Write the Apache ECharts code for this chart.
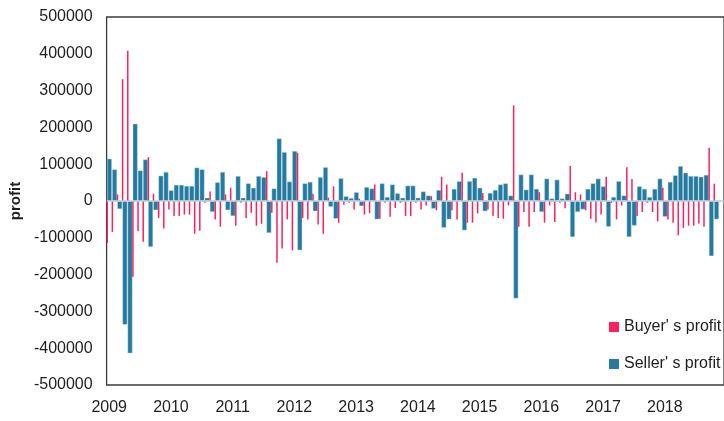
<!DOCTYPE html>
<html>
<head>
<meta charset="utf-8">
<script src="https://cdn.jsdelivr.net/npm/echarts@6/dist/echarts.min.js"></script>
<style>
html,body{margin:0;padding:0;background:#fff;}
#chart{width:724px;height:421px;}
</style>
</head>
<body>
<div id="chart"></div>
<script>
// Monthly data, Jan 2009 .. Dec 2018
const years = [2009, 2010, 2011, 2012, 2013, 2014, 2015, 2016, 2017, 2018];
const months = ['01','02','03','04','05','06','07','08','09','10','11','12'];
const yTicks = [-500000, 500000, 100000]; // min, max, step

const sellerProfit = [
  // 2009
  115000, 86000, -22000, -336000, -414000, 210000, 83000, 113000, -125000, -25000, 69000, 79000,
  // 2010
  29000, 44000, 44000, 41000, 41000, 91000, 86000, 9000, -30000, 51000, 79000, -25000,
  // 2011
  -41000, 68000, 9000, 48000, 36000, 68000, 65000, -87000, 34000, 170000, 133000, 53000,
  // 2012
  136000, -134000, 48000, 52000, -28000, 65000, 92000, -16000, -48000, 62000, 13000, 8000,
  // 2013
  24000, -14000, 38000, 34000, -50000, 48000, 11000, 45000, 21000, 9000, 42000, 42000,
  // 2014
  9000, 26000, 15000, -21000, 30000, -73000, -50000, 33000, 54000, -80000, 54000, 63000,
  // 2015
  36000, -28000, 22000, 30000, 45000, 48000, 15000, -265000, 72000, 31000, 72000, 33000,
  // 2016
  -30000, 61000, 7000, 58000, 7000, 20000, -98000, -30000, -23000, 33000, 48000, 61000,
  // 2017
  40000, -70000, 11000, 54000, 15000, -98000, -67000, 40000, 33000, 11000, 33000, 61000,
  // 2018
  -43000, 52000, 70000, 95000, 77000, 68000, 68000, 66000, 71000, -150000, -50000, null
];

const buyerProfit = [
  // 2009
  -114000, -84000, 18000, 331000, 408000, -206000, -82000, -111000, 119000, 20000, -46000, -75000,
  // 2010
  -23000, -41000, -41000, -37000, -37000, -89000, -81000, -5000, 26000, -50000, -70000, 18000,
  // 2011
  36000, -67000, -5000, -46000, -32000, -67000, -62000, 81000, -32000, -168000, -129000, -50000,
  // 2012
  -134000, 131000, -46000, -50000, 20000, -64000, -89000, 9000, 40000, -59000, -10000, -5000,
  // 2013
  -23000, 6000, -37000, -33000, 45000, -48000, -5000, -43000, -19000, -5000, -41000, -41000,
  // 2014
  -5000, -23000, -12000, 13000, -25000, 66000, 45000, -25000, -50000, 77000, -59000, -59000,
  // 2015
  -34000, 22000, -23000, -41000, -46000, -48000, -12000, 260000, -70000, -30000, -70000, -30000,
  // 2016
  24000, -59000, -12000, -57000, -5000, -20000, 95000, 24000, 18000, -25000, -48000, -58000,
  // 2017
  -37000, 66000, -5000, -50000, -12000, 92000, 60000, -41000, -30000, -5000, -30000, -55000,
  // 2018
  36000, -50000, -59000, -93000, -73000, -67000, -67000, -61000, -70000, 145000, 47000, null
];

const seriesNames = ["Buyer' s profit", "Seller' s profit"];
const categories = [];
years.forEach(y => months.forEach(m => categories.push(y + '-' + m)));

const FONT = '"Liberation Sans", Arial, sans-serif';
const TEXT = '#1f1f1f';

const chart = echarts.init(document.getElementById('chart'), null, {renderer: 'canvas'});
chart.setOption({
  animation: false,
  backgroundColor: '#ffffff',
  textStyle: {fontFamily: FONT},
  grid: {
    left: 106, right: -9, top: 17, bottom: 36,
    show: true, borderColor: '#3a3a3a', borderWidth: 1.3, backgroundColor: 'transparent'
  },
  legend: {
    orient: 'vertical',
    left: 609, top: 319,
    padding: 0,
    icon: 'rect', itemWidth: 10, itemHeight: 10, itemGap: 21,
    itemStyle: {borderWidth: 0},
    textStyle: {fontSize: 16, color: TEXT, fontFamily: FONT, padding: [0, 0, 0, 0]},
    data: seriesNames
  },
  xAxis: {
    type: 'category',
    data: categories,
    boundaryGap: true,
    axisLine: {show: false},
    axisTick: {show: false},
    splitLine: {show: false},
    axisLabel: {
      interval: 11,
      margin: 15,
      fontSize: 16,
      color: TEXT,
      fontFamily: FONT,
      formatter: v => v.slice(0, 4)
    }
  },
  yAxis: {
    type: 'value',
    min: yTicks[0], max: yTicks[1], interval: yTicks[2],
    name: 'profit',
    nameLocation: 'middle',
    nameRotate: 90,
    nameGap: 72,
    nameTextStyle: {fontSize: 15, fontWeight: 'bold', color: TEXT, fontFamily: FONT},
    axisLine: {show: false},
    axisTick: {show: false},
    splitLine: {show: false},
    axisLabel: {fontSize: 16, color: TEXT, fontFamily: FONT, margin: 14, formatter: v => String(v)}
  },
  series: [
    {
      name: seriesNames[0],
      type: 'bar',
      data: buyerProfit,
      barWidth: 1.5,
      barGap: '-66.7%',
      z: 3,
      itemStyle: {color: '#ff1f5b'},
      markLine: {
        silent: true,
        symbol: 'none',
        label: {show: false},
        lineStyle: {color: '#b4cfdc', width: 1.5, type: 'solid'},
        data: [{yAxis: 0}]
      }
    },
    {
      name: seriesNames[1],
      type: 'bar',
      data: sellerProfit,
      barWidth: 5,
      barGap: '-66.7%',
      z: 2,
      itemStyle: {color: '#247a9f', borderColor: 'rgba(200,225,236,0.7)', borderWidth: 0.6}
    }
  ]
});
</script>
</body>
</html>
